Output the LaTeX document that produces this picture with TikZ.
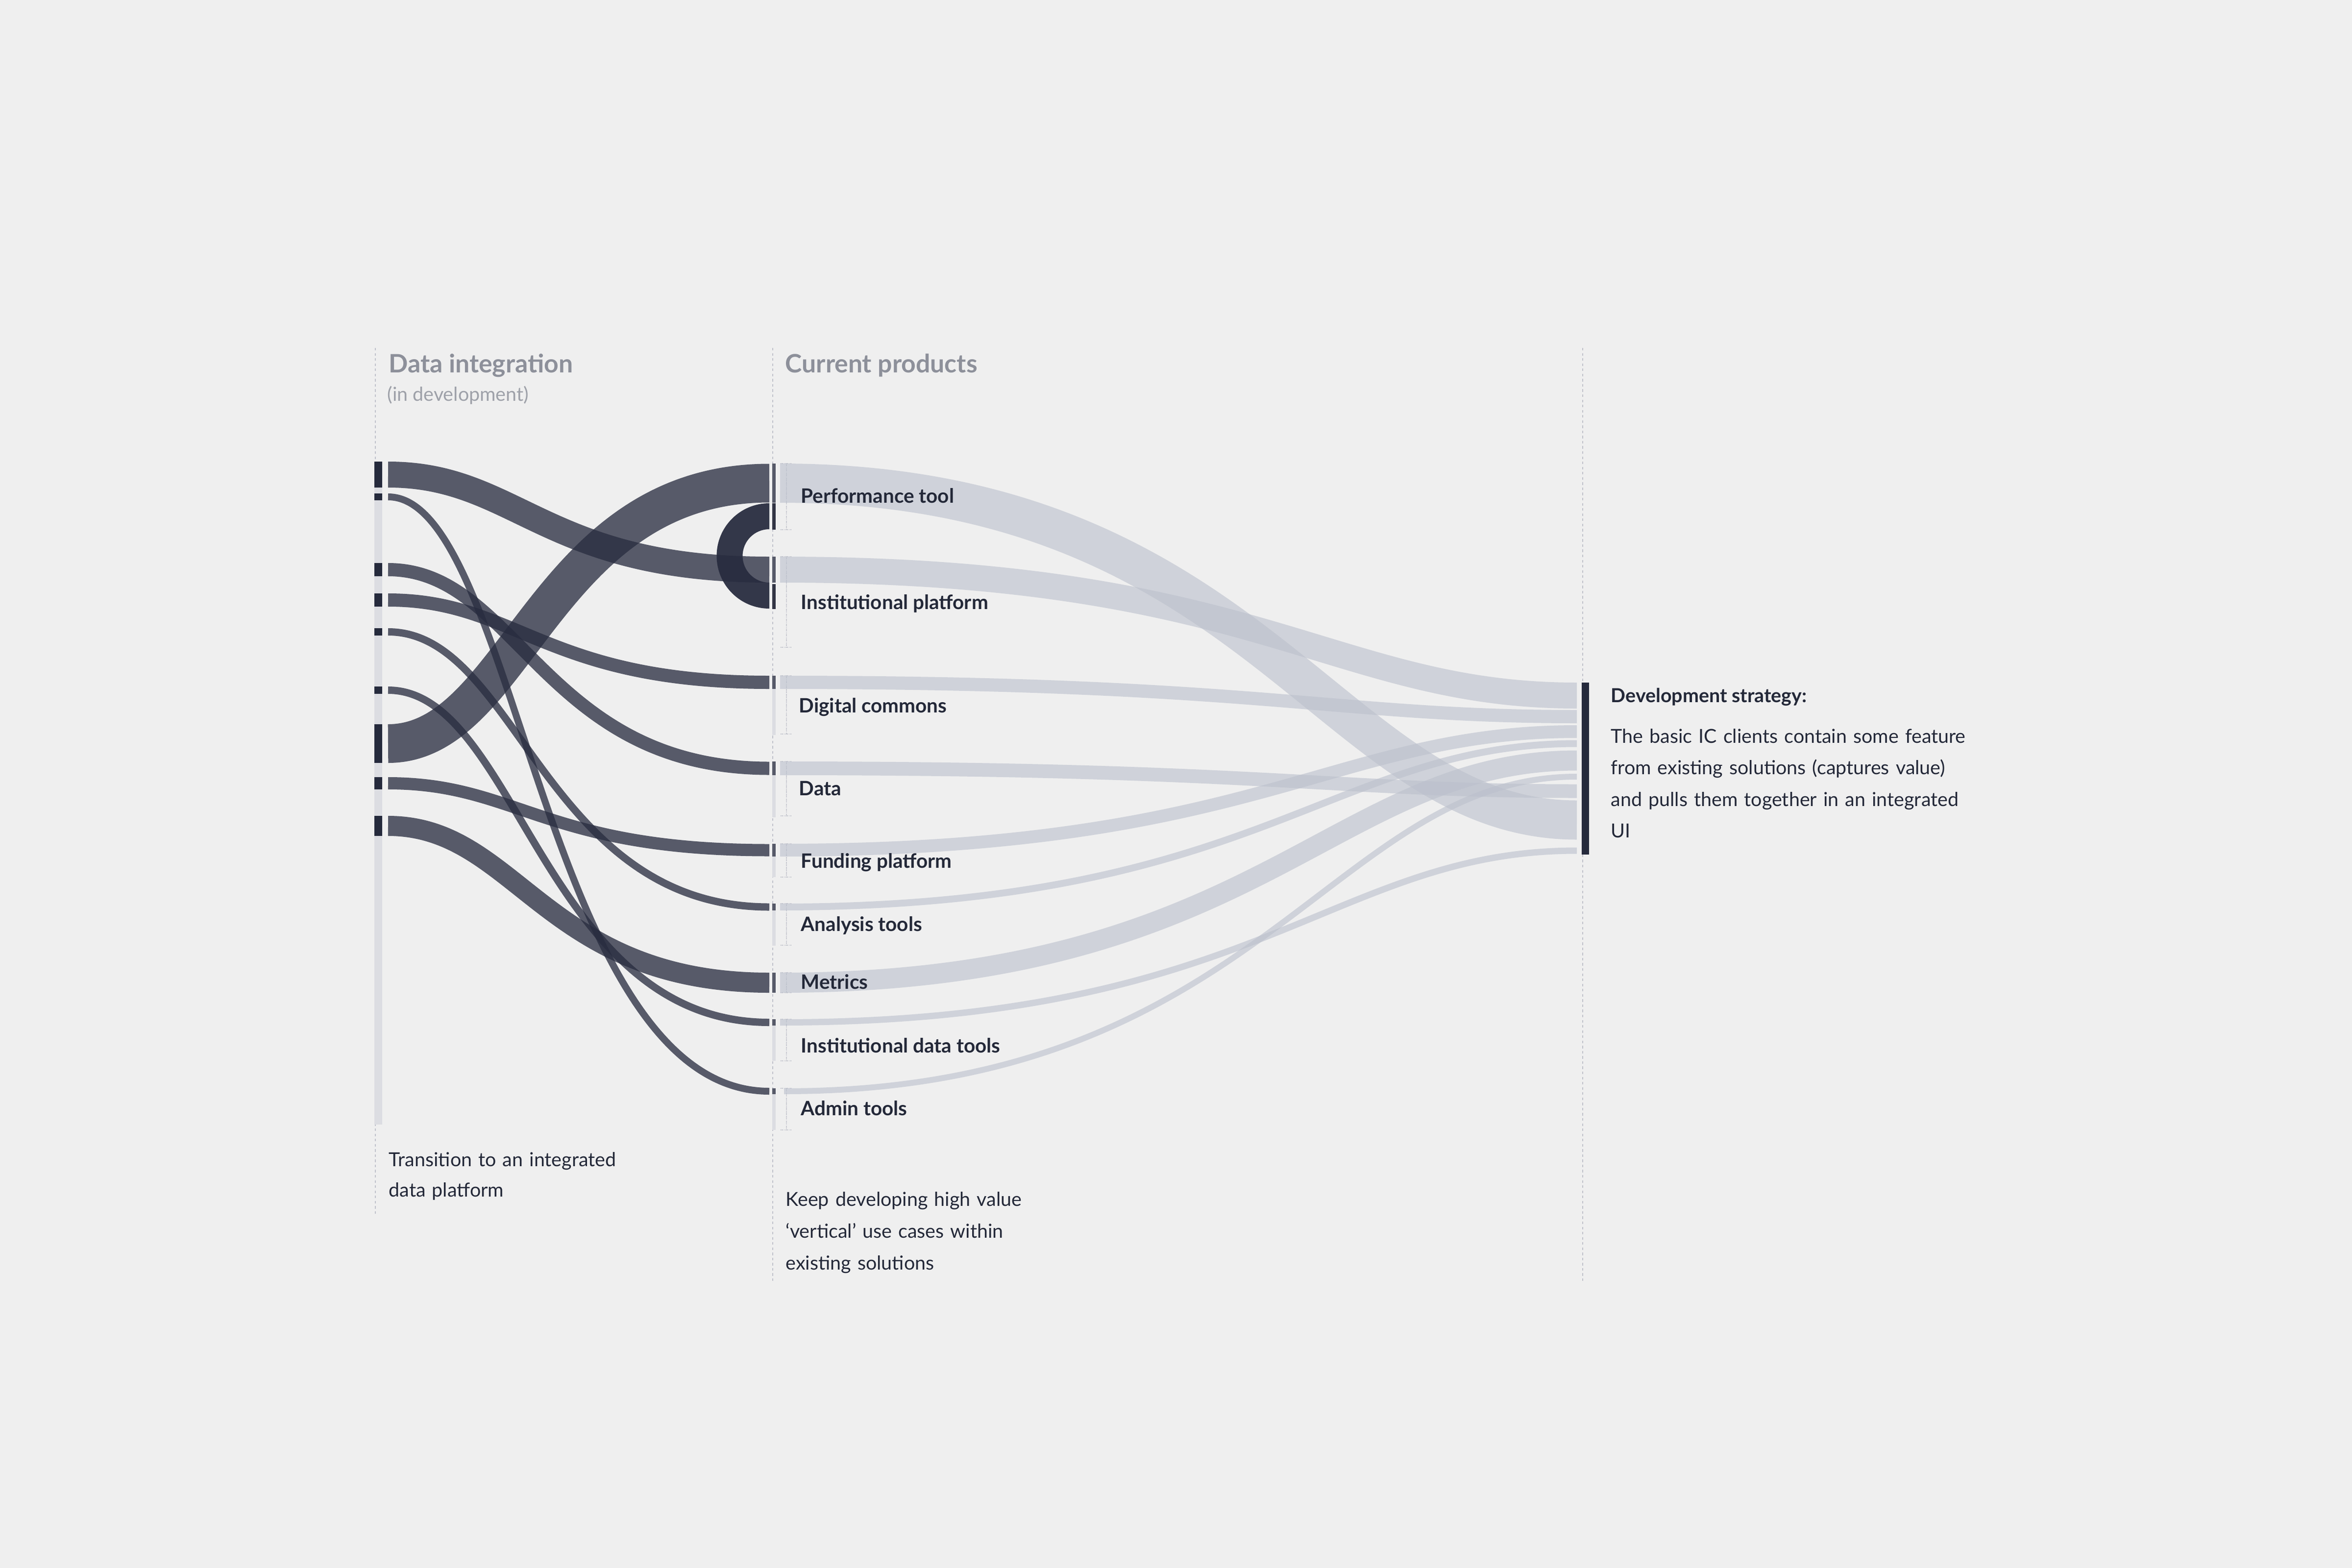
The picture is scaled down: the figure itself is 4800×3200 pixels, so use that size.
\documentclass[tikz,border=0pt]{standalone}
\usepackage{fontspec}
\setmainfont{Lato}
\usepackage{tikz}

\definecolor{paper}{HTML}{EFEFEF}
\definecolor{ink}{HTML}{232838}
\definecolor{inkbar}{HTML}{252A3C}
\definecolor{flowdark}{HTML}{282C3F}
\definecolor{flowlight}{HTML}{BBC0CC}
\definecolor{greyhead}{HTML}{8D909A}
\definecolor{rulegrey}{HTML}{BFC1CA}
\definecolor{slot}{HTML}{DCDDE2}
\definecolor{midbar}{HTML}{575A69}
\definecolor{midloop}{HTML}{333545}

% flow from the data integration column to a product (top, bottom at each end)
\newcommand{\darkband}[4]{%
  \draw[darkflow, line width={(#2-#1)*0.01cm}]
    (792,{(#1+#2)/2}) .. controls (1055,{(#1+#2)/2}) and (1110,{(#3+#4)/2}) .. (1570,{(#3+#4)/2});}
% flow from a product to the development strategy
\newcommand{\lightband}[5][1592]{%
  \draw[lightflow, line width={(#3-#2)*0.01cm}]
    (#1,{(#2+#3)/2}) .. controls (2570,{(#2+#3)/2}) and (2720,{(#4+#5)/2}) .. (3218,{(#4+#5)/2});}
% dotted bracket beside a product
\newcommand{\bracket}[2]{%
  \draw[brace] (1593,#1) -- (1616,#1) (1605,#1) -- (1605,#2) (1593,#2) -- (1616,#2);}

\begin{document}
\begin{tikzpicture}[x=0.01cm, y=-0.01cm,
    darkflow/.style={draw=flowdark, draw opacity=0.76},
    loopflow/.style={fill=flowdark, fill opacity=0.94},
    lightflow/.style={draw=flowlight, draw opacity=0.6},
    colrule/.style={draw=rulegrey, line width=0.6pt, dash pattern=on 1.5pt off 1.5pt},
    brace/.style={draw=rulegrey, line width=0.55pt, dash pattern=on 0.5pt off 0.45pt},
    head/.style={anchor=base west, inner sep=0pt, text=greyhead, font=\fontsize{14.7}{17}\selectfont\bfseries},
    lbl/.style={anchor=base west, inner sep=0pt, text=ink, font=\fontsize{11.5}{14}\selectfont\bfseries},
    note/.style={anchor=base west, inner sep=0pt, text=ink, text width=300pt, align=left}]

    \useasboundingbox (0,0) rectangle (4800,3200);
    \fill[paper] (0,0) rectangle (4800,3200);

    % Column rules
    \draw[colrule] (766,710) -- (766,2478);
    \draw[colrule] (1577,710) -- (1577,2617);
    \draw[colrule] (3230,710) -- (3230,2617);

    % Brackets beside the products
    \bracket{946}{1081}
    \bracket{1136}{1321}
    \bracket{1379}{1498}
    \bracket{1554}{1665}
    \bracket{1722}{1790}
    \bracket{1844}{1929}
    \bracket{1985}{2026}
    \bracket{2080}{2165}
    \bracket{2221}{2306}

    % Data integration column
    \fill[slot] (764,942) rectangle (780,2295);
    \fill[inkbar] (764,942) rectangle (780,995);
    \fill[inkbar] (764,1007) rectangle (780,1021);
    \fill[inkbar] (764,1149) rectangle (780,1176);
    \fill[inkbar] (764,1211) rectangle (780,1238);
    \fill[inkbar] (764,1282) rectangle (780,1297);
    \fill[inkbar] (764,1401) rectangle (780,1416);
    \fill[inkbar] (764,1478) rectangle (780,1557);
    \fill[inkbar] (764,1586) rectangle (780,1611);
    \fill[inkbar] (764,1665) rectangle (780,1706);

    % Spare room on the product bars
    \fill[slot] (1576,1406) rectangle (1583,1500);
    \fill[slot] (1576,1582) rectangle (1583,1668);
    \fill[slot] (1576,1748) rectangle (1583,1790);
    \fill[slot] (1576,1858) rectangle (1583,1930);
    \fill[slot] (1576,2093) rectangle (1583,2165);
    \fill[slot] (1576,2233) rectangle (1583,2306);

    % Flows into the current products
    \darkband{942}{995}{1136}{1189}
    \darkband{1007}{1021}{2221}{2233}
    \darkband{1149}{1176}{1554}{1582}
    \darkband{1211}{1238}{1379}{1406}
    \darkband{1282}{1297}{1844}{1858}
    \darkband{1401}{1416}{2080}{2093}
    \darkband{1478}{1557}{946}{1026}
    \darkband{1586}{1611}{1722}{1748}
    \darkband{1665}{1706}{1985}{2026}

    % Loop from performance tool back into institutional platform
    \fill[loopflow] (1570,1027) arc[start angle=-90, end angle=-270, radius=107.5]
        -- (1570,1189) arc[start angle=90, end angle=270, radius=54.5] -- cycle;

    % Product bars
    \fill[midbar] (1576,946) rectangle (1583,1026);
    \fill[midloop] (1576,1027) rectangle (1583,1081);
    \fill[midbar] (1576,1136) rectangle (1583,1189);
    \fill[midloop] (1576,1192) rectangle (1583,1243);
    \fill[midbar] (1576,1379) rectangle (1583,1406);
    \fill[midbar] (1576,1554) rectangle (1583,1582);
    \fill[midbar] (1576,1722) rectangle (1583,1748);
    \fill[midbar] (1576,1844) rectangle (1583,1858);
    \fill[midbar] (1576,1985) rectangle (1583,2026);
    \fill[midbar] (1576,2080) rectangle (1583,2093);
    \fill[midbar] (1576,2221) rectangle (1583,2233);

    % Flows into the development strategy
    \lightband{946}{1026}{1633}{1714}
    \lightband{1136}{1189}{1393}{1446}
    \lightband{1379}{1406}{1449}{1476}
    \lightband{1554}{1582}{1601}{1628}
    \lightband{1722}{1748}{1481}{1505}
    \lightband{1844}{1858}{1511}{1524}
    \lightband{1985}{2026}{1532}{1572}
    \lightband{2080}{2093}{1729}{1743}
    \lightband[1600]{2221}{2233}{1578}{1592}

    \fill[inkbar] (3228,1393) rectangle (3243,1744);

    % Headings
    \node[head] (hdint) at (793,760) {Data integration};
    \node[anchor=base west, inner sep=0pt, text=greyhead!85!white, font=\fontsize{11.2}{14}\selectfont] (hddev) at (790,818) {(in development)};
    \node[head] (hdcur) at (1602,760) {Current products};

    % Products
    \node[lbl] (perf) at (1634,1026) {Performance tool};
    \node[lbl] (instplat) at (1634,1243) {Institutional platform};
    \node[lbl] (digcom) at (1630,1454) {Digital commons};
    \node[lbl] (data) at (1630,1623) {Data};
    \node[lbl] (fund) at (1634,1771) {Funding platform};
    \node[lbl] (anal) at (1634,1900) {Analysis tools};
    \node[lbl] (metr) at (1634,2018) {Metrics};
    \node[lbl] (instdata) at (1634,2148) {Institutional data tools};
    \node[lbl] (admin) at (1634,2276) {Admin tools};

    % Notes
    \node[note, font=\fontsize{11.2}{17.9}\selectfont] (notel) at (793,2380)
        {Transition to an integrated\\data platform};
    \node[note, font=\fontsize{11.2}{18.5}\selectfont] (notem) at (1603,2461)
        {Keep developing high value\\‘vertical’ use cases within\\existing solutions};
    \node[anchor=base west, inner sep=0pt, text=ink, font=\fontsize{11.2}{14}\selectfont\bfseries] (strathd) at (3287,1433)
        {Development strategy:};
    \node[note, font=\fontsize{11.2}{18.35}\selectfont] (stratbody) at (3287,1516)
        {The basic IC clients contain some feature\\from existing solutions (captures value)\\and pulls them together in an integrated\\UI};
\end{tikzpicture}
\end{document}
